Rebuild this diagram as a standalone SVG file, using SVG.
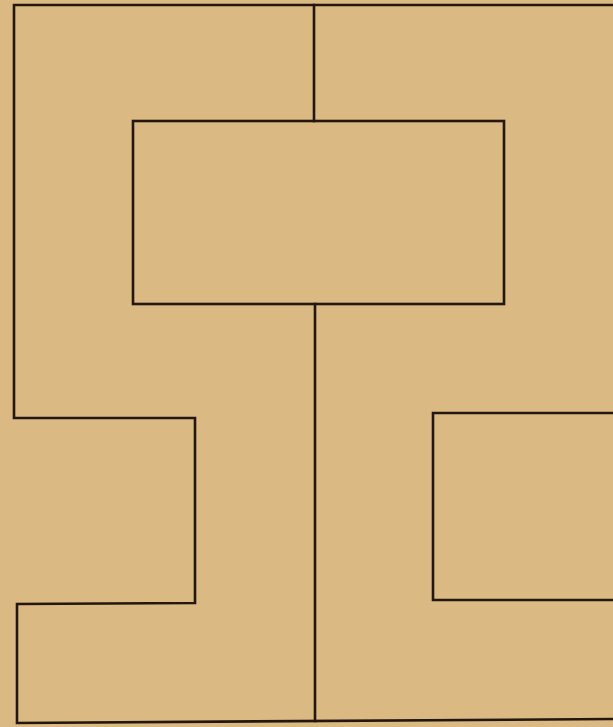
<svg xmlns="http://www.w3.org/2000/svg" width="613" height="727" viewBox="0 0 613 727">
<style>
.w{fill:none;stroke:#24170f;stroke-width:2.6;stroke-linejoin:miter;stroke-linecap:square}
</style>
<rect width="613" height="727" fill="#dab982"/>
<g id="outline">
<path class="w" d="M613,5 L14,5 L14,418 L195,418 L195,603 L17,604 L17,723 L613,719"/>
</g>
<g id="upper-box">
<rect class="w" x="133" y="121" width="371" height="183"/>
</g>
<g id="right-box">
<path class="w" d="M613,413 L433,413 L433,600 L613,600"/>
</g>
<g id="connectors">
<line class="w" x1="314" y1="5" x2="314" y2="121"/>
<line class="w" x1="315" y1="304" x2="315" y2="721"/>
</g>
</svg>
